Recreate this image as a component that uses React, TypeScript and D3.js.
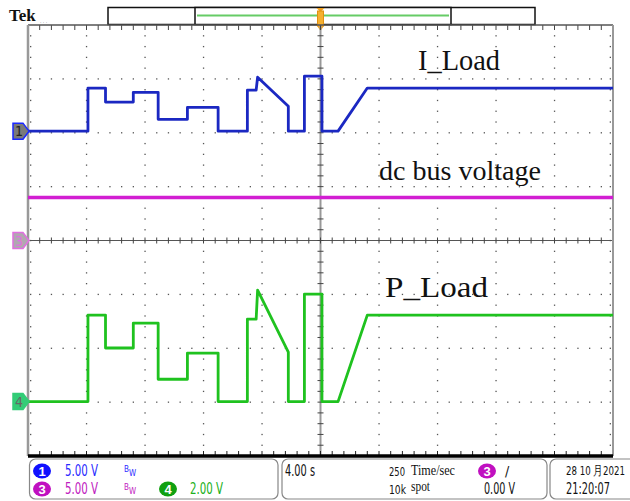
import React from 'react';
import * as d3 from 'd3';

const W = 630;
const H = 501;
const plot = { left: 28, right: 613, top: 25, bottom: 456 };
const H_DIVS = 10;
const V_DIVS = 8;
const SEC_PER_DIV = 4;
const MINOR = 5;

// Breakpoints of the load profile (s)
const loadTimes = [0, 4.1, 4.1, 5.3, 5.3, 7.2, 7.2, 8.9, 8.9, 10.9, 10.9, 13.0, 13.0, 15.0, 15.0, 15.6, 15.7, 17.8, 17.8, 18.9, 18.9, 20.1, 20.1, 21.2, 23.2, 40];
// Channel 1: load current probe output (V)
const iLoad = [0, 0, 4.0, 4.0, 2.7, 2.7, 3.6, 3.6, 1.1, 1.1, 2.2, 2.2, 0, 0, 3.8, 3.8, 5.0, 2.3, 0, 0, 5.1, 5.1, 0, 0, 4.0, 4.0];
// Channel 4: load power (V)
const pLoad = [0, 0, 3.21, 3.21, 1.99, 1.99, 2.91, 2.91, 0.83, 0.83, 1.8, 1.8, 0, 0, 3.06, 3.06, 4.14, 1.84, 0, 0, 3.99, 3.99, 0, 0, 3.21, 3.21];
// Channel 3: dc bus voltage (V)
const busTimes = [0, 40];
const busVoltage = [4.0, 4.0];

type Channel = { id: string; voltsPerDiv: number; offsetDiv: number; color: string };
const ch1: Channel = { id: '1', voltsPerDiv: 5, offsetDiv: 2.03, color: '#1b28c2' };
const ch3: Channel = { id: '3', voltsPerDiv: 5, offsetDiv: 0, color: '#d21ed2' };
const ch4: Channel = { id: '4', voltsPerDiv: 2, offsetDiv: -2.99, color: '#1fc21f' };

const x = d3.scaleLinear().domain([0, H_DIVS * SEC_PER_DIV]).range([plot.left, plot.right]);
const yFor = (c: Channel) =>
  d3
    .scaleLinear()
    .domain([(-V_DIVS / 2 - c.offsetDiv) * c.voltsPerDiv, (V_DIVS / 2 - c.offsetDiv) * c.voltsPerDiv])
    .range([plot.bottom, plot.top]);

const divW = (plot.right - plot.left) / H_DIVS;
const divH = (plot.bottom - plot.top) / V_DIVS;
const cx = plot.left + divW * 5;
const cy = plot.top + divH * 4;

function tracePath(c: Channel, ts: number[], vs: number[]) {
  const y = yFor(c);
  const line = d3
    .line<number>()
    .x((_, i) => x(ts[i]))
    .y((v) => y(v));
  return line(vs) || '';
}

const statusFont = 'DejaVu Sans Condensed, Liberation Sans Narrow, sans-serif';
const serif = 'Liberation Serif, Times New Roman, serif';

function Marker({ c, fill, stroke, textColor }: { c: Channel; fill: string; stroke: string; textColor: string }) {
  const y0 = yFor(c)(0);
  const pts = [
    [13, y0 - 8],
    [23, y0 - 8],
    [29, y0],
    [23, y0 + 8],
    [13, y0 + 8],
  ]
    .map((p) => p.join(','))
    .join(' ');
  return (
    <g>
      <polygon points={pts} fill={fill} stroke={stroke} strokeWidth={1.5} />
      <text x={19} y={y0 + 5} textAnchor="middle" fontFamily={statusFont} fontSize={14} fill={textColor}>
        {c.id}
      </text>
    </g>
  );
}

function Badge({ x0, y0, color, label }: { x0: number; y0: number; color: string; label: string }) {
  return (
    <g>
      <ellipse cx={x0} cy={y0} rx={9} ry={7.5} fill={color} />
      <text x={x0} y={y0 + 5} textAnchor="middle" fontFamily="Liberation Sans, Arial, sans-serif" fontSize={13} fontWeight="bold" fill="#fff">
        {label}
      </text>
    </g>
  );
}

function T({ x0, y0, w, size = 15, color = '#111', family = statusFont, children }: { x0: number; y0: number; w: number; size?: number; color?: string; family?: string; children: React.ReactNode }) {
  return (
    <text x={x0} y={y0} fontFamily={family} fontSize={size} fill={color} textLength={w} lengthAdjust="spacingAndGlyphs">
      {children}
    </text>
  );
}

export default function App() {
  const dots: JSX.Element[] = [];
  const minorW = divW / MINOR;
  const minorH = divH / MINOR;
  // dotted graticule
  for (let i = 1; i < H_DIVS; i++) {
    if (i === 5) continue;
    const gx = plot.left + i * divW;
    for (let j = 1; j < V_DIVS * MINOR; j++) {
      dots.push(<rect key={`v${i}-${j}`} x={gx - 0.6} y={plot.top + j * minorH - 0.6} width={1.3} height={1.3} fill="#555" />);
    }
  }
  for (let k = 1; k < V_DIVS; k++) {
    if (k === 4) continue;
    const gy = plot.top + k * divH;
    for (let j = 1; j < H_DIVS * MINOR; j++) {
      if (j % MINOR === 0) continue;
      dots.push(<rect key={`h${k}-${j}`} x={plot.left + j * minorW - 0.6} y={gy - 0.6} width={1.3} height={1.3} fill="#555" />);
    }
  }
  // edge dots
  for (let j = 1; j < V_DIVS * MINOR; j++) {
    const gy = plot.top + j * minorH;
    dots.push(<rect key={`el${j}`} x={plot.left + 2} y={gy - 0.6} width={1.3} height={1.3} fill="#555" />);
    dots.push(<rect key={`er${j}`} x={plot.right - 3.3} y={gy - 0.6} width={1.3} height={1.3} fill="#555" />);
  }

  const ticks: JSX.Element[] = [];
  for (let j = 1; j < H_DIVS * MINOR; j++) {
    const tx = plot.left + j * minorW;
    ticks.push(<line key={`tt${j}`} x1={tx} x2={tx} y1={plot.top} y2={plot.top + 5} stroke="#444" strokeWidth={1} />);
    ticks.push(<line key={`tb${j}`} x1={tx} x2={tx} y1={plot.bottom} y2={plot.bottom - 5} stroke="#222" strokeWidth={1} />);
    ticks.push(<line key={`tc${j}`} x1={tx} x2={tx} y1={cy - 3} y2={cy + 3} stroke="#444" strokeWidth={1} />);
  }
  for (let j = 1; j < V_DIVS * MINOR; j++) {
    const ty = plot.top + j * minorH;
    ticks.push(<line key={`tv${j}`} x1={cx - 3} x2={cx + 3} y1={ty} y2={ty} stroke="#444" strokeWidth={1} />);
  }

  return (
    <svg width={W} height={H} style={{ position: 'absolute', left: 0, top: 0, background: '#fff' }}>
      <rect x={0} y={0} width={W} height={H} fill="#fff" />
      {/* header */}
      <text x={9} y={21} fontFamily={serif} fontSize={17} fontWeight="bold" fill="#111">
        Tek
      </text>
      <text x={40} y={24} fontFamily={statusFont} fontSize={5} fill="#555">
        · · ·
      </text>
      <rect x={108} y={7.5} width={427} height={17} fill="#fff" stroke="#111" strokeWidth={1.5} />
      <rect x={195} y={7.5} width={256} height={17} fill="#fff" stroke="#111" strokeWidth={1.5} />
      <line x1={197} x2={449} y1={15.5} y2={15.5} stroke="#66cc66" strokeWidth={2} />
      {/* trigger position */}
      <g>
        <polygon points={`${cx - 4},8 ${cx + 4},8 ${cx},12`} fill="#f0a020" />
        <rect x={cx - 3} y={11} width={6} height={15} fill="#f5b030" stroke="#e09010" strokeWidth={1} />
        <polygon points={`${cx - 4},25 ${cx + 4},25 ${cx},31`} fill="#f0a020" />
      </g>

      {/* graticule */}
      {dots}
      <line x1={plot.left} x2={plot.right} y1={cy} y2={cy} stroke="#555" strokeWidth={1} />
      <line x1={cx} x2={cx} y1={plot.top} y2={plot.bottom} stroke="#999" strokeWidth={2} />
      {ticks}
      <line x1={plot.left} x2={plot.right} y1={plot.top} y2={plot.top} stroke="#555" strokeWidth={1.5} />
      <line x1={plot.left} x2={plot.left} y1={plot.top} y2={plot.bottom} stroke="#999" strokeWidth={2.5} />
      <line x1={plot.right} x2={plot.right} y1={plot.top} y2={plot.bottom} stroke="#999" strokeWidth={2} />
      <line x1={plot.left} x2={plot.right} y1={plot.bottom} y2={plot.bottom} stroke="#000" strokeWidth={3.5} />

      {/* traces */}
      <path d={tracePath(ch3, busTimes, busVoltage)} fill="none" stroke={ch3.color} strokeWidth={3.5} />
      <path d={tracePath(ch1, loadTimes, iLoad)} fill="none" stroke={ch1.color} strokeWidth={2.8} strokeLinejoin="round" />
      <path d={tracePath(ch4, loadTimes, pLoad)} fill="none" stroke={ch4.color} strokeWidth={2.8} strokeLinejoin="round" />

      {/* channel ground markers */}
      <Marker c={ch1} fill="#7a7a7a" stroke="#1b28ff" textColor="#222" />
      <Marker c={ch3} fill="#b0a8b0" stroke="#e070e0" textColor="#e070e0" />
      <Marker c={ch4} fill="#33cc77" stroke="#33cc77" textColor="#666" />

      {/* annotations */}
      <T x0={418} y0={70} w={82} size={29} family={serif}>I_Load</T>
      <T x0={379} y0={180} w={162} size={27} family={serif}>dc bus voltage</T>
      <T x0={385} y0={297} w={103} size={29} family={serif}>P_Load</T>

      {/* status panel */}
      <rect x={29.5} y={459} width={248.5} height={40} rx={6} fill="none" stroke="#888" strokeWidth={1.2} />
      <rect x={282} y={459} width={265} height={40} rx={6} fill="none" stroke="#888" strokeWidth={1.2} />
      <rect x={550} y={459} width={90} height={40} rx={6} fill="none" stroke="#888" strokeWidth={1.2} />

      <Badge x0={42} y0={471} color="#1010ff" label="1" />
      <T x0={65} y0={476} w={33} color="#2a2aff">5.00 V</T>
      <text x={124} y={472} fontFamily={statusFont} fontSize={8} fill="#2a2aff">B</text>
      <text x={129} y={476} fontFamily={statusFont} fontSize={8} fill="#2a2aff">W</text>

      <Badge x0={42} y0={489} color="#c010c0" label="3" />
      <T x0={65} y0={494} w={33} color="#c020c0">5.00 V</T>
      <text x={124} y={490} fontFamily={statusFont} fontSize={8} fill="#c020c0">B</text>
      <text x={129} y={494} fontFamily={statusFont} fontSize={8} fill="#c020c0">W</text>

      <Badge x0={168} y0={489} color="#10a010" label="4" />
      <T x0={190} y0={494} w={33} color="#20b020">2.00 V</T>

      <T x0={285} y0={476} w={30}>4.00 s</T>
      <T x0={389} y0={476} w={16} size={13}>250</T>
      <T x0={411} y0={475} w={44} size={14} family={serif}>Time/sec</T>
      <T x0={389} y0={494} w={17} size={13}>10k</T>
      <T x0={411} y0={491} w={19} size={14} family={serif}>spot</T>

      <Badge x0={487} y0={471} color="#c010c0" label="3" />
      <text x={505} y={476} fontFamily={statusFont} fontSize={14} fill="#111">/</text>
      <T x0={484} y0={494} w={31}>0.00 V</T>

      <T x0={566} y0={475} w={59} size={13}>28 10 月2021</T>
      <T x0={566} y0={494} w={44}>21:20:07</T>
    </svg>
  );
}
